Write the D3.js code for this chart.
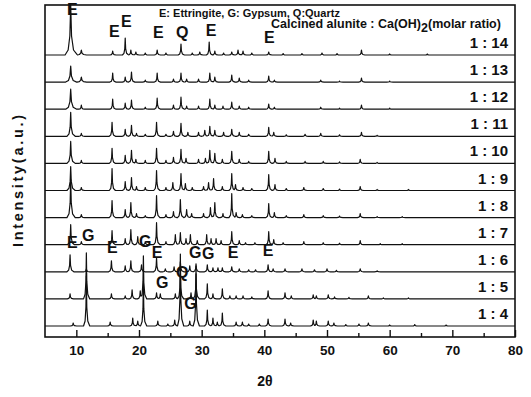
<!DOCTYPE html>
<html lang="en">
<head>
<meta charset="utf-8">
<title>XRD patterns</title>
<script src="https://d3js.org/d3.v7.min.js"></script>
<style>
  body { margin: 0; background: #fff; }
  svg text { font-family: Arial, "Liberation Sans", sans-serif; fill: #111; }
</style>
</head>
<body>
<div id="chart"></div>
<script>
// Sample labels, bottom trace first
const ratios = ["1 : 4", "1 : 5", "1 : 6", "1 : 7", "1 : 8", "1 : 9", "1 : 10", "1 : 11", "1 : 12", "1 : 13", "1 : 14"];

// Peaks: [2theta, height (a.u.), half width (optional)]
const peaks_1_4 = [[9.5,3],[11.6,50],[15.4,4],[19.0,8],[19.8,5],[20.7,45],[23.0,5],[24.6,2],[25.7,6],[26.6,72],[28.1,5],[29.1,60],[30.9,16],[31.8,8],[32.5,4],[33.3,13],[35.5,4],[36.5,4],[37.5,2],[39.2,2],[40.6,7],[43.3,7],[44.2,3],[47.8,6],[48.3,5],[50.2,5],[51.1,3],[53,1.5],[55.1,2],[56.6,3],[60,1],[64,1.5],[69,1]];
const peaks_1_5 = [[9.0,5],[11.6,46],[15.6,5],[17.8,3],[18.9,9],[20.2,8],[20.7,43],[22.8,6],[23.4,5],[25.8,5],[26.6,30],[28.3,6],[29.1,25],[30.9,15],[31.8,5],[33.3,10],[34.5,3],[35.5,3],[36.6,3],[38,2],[40.6,8],[43.3,6],[44.3,3],[47.8,4],[48.3,3],[50.2,4],[51.2,2],[53.5,1.5],[56.6,3],[59,1],[63,1]];
const peaks_1_6 = [[9.0,17,0.5],[11.6,3],[15.6,11],[17.8,6],[18.7,11],[20.4,7],[22.8,14],[24.2,3],[25.6,5],[26.6,10],[28.1,6],[29.1,8],[30.9,7],[31.8,4],[32.6,4],[33.3,4],[34.8,5],[36,3],[37.5,2],[38.6,2],[40.6,7],[41.4,3],[43.3,3],[46,3],[48,2],[50,3],[51.5,1.5],[55.3,3],[58,1]];
const peaks_1_7 = [[9.1,20,0.5],[10.8,3],[15.7,14],[17.8,6],[18.7,15],[19.8,8],[21,3],[22.8,22],[24.3,3],[25.8,10],[26.6,12],[27.5,6],[28.2,10],[29.3,4],[30.8,10],[31.5,6],[32.3,6],[33.1,4],[34.8,13],[36,4],[37,2],[38.5,2],[40.7,13],[41.5,5],[43,2],[46.3,3],[49.4,2],[52,1.5],[55.3,4],[58.5,1],[62,1]];
const peaks_1_8 = [[9.1,38,0.6],[10.8,3],[15.7,17],[17.8,8],[18.7,15],[19.6,4],[21,2],[22.8,22],[24.3,3],[25.5,6],[26.6,18],[27.6,8],[28.4,4],[30.3,4],[31.4,10],[32.1,15],[33.4,4],[34.8,24],[35.5,5],[36.5,3],[38,2],[40.7,14],[41.6,5],[43.5,2],[46.3,3],[49.4,2],[52,1.5],[55.3,4],[58,1],[62,1]];
const peaks_1_9 = [[9.1,24,0.6],[10.8,3],[15.7,22],[17.8,9],[18.8,13],[19.6,4],[21,3],[22.8,20],[24.3,3],[25.4,8],[26.7,17],[27.4,7],[28.5,3],[30.3,4],[31.1,8],[31.9,12],[33.3,4],[34.8,17],[35.4,6],[36.6,3],[38,2],[40.7,16],[41.7,6],[43.5,2],[46.3,3],[49.4,2],[52,1.5],[55.3,4],[58,1],[63,1]];
const peaks_1_10 = [[9.1,22,0.6],[10.8,3],[15.7,15],[17.8,8],[18.8,13],[19.5,4],[21,3],[22.8,15],[24.3,3],[25.5,6],[26.7,14],[27.5,5],[29.5,4],[30.6,5],[31.3,13],[32.1,10],[33.3,4],[34.8,12],[36,4],[37.5,2],[40.7,12],[41.7,5],[43.5,2],[46.5,2],[49.4,2],[52,1.5],[55.3,4],[58,1]];
const peaks_1_11 = [[9.1,24,0.6],[10.8,3],[15.7,14],[17.8,7],[18.8,11],[19.6,3],[21,2],[22.8,14],[24.3,2],[25.5,5],[26.7,13],[27.8,4],[29.5,4],[30.5,6],[31.3,10],[32.1,6],[33.5,4],[34.8,7],[36,4],[37.5,2],[40.7,9],[41.5,4],[43.5,1.5],[46.5,2],[49,3],[52,1.5],[55.5,4],[58,1]];
const peaks_1_12 = [[9.1,20,0.8],[10.8,4],[15.8,10],[17.8,6],[18.8,9],[21,2],[22.9,11],[25.5,4],[26.7,12],[27.6,3],[29.5,3],[31.3,10],[32.1,4],[33.4,3],[34.8,7],[36,3],[37.5,2],[40.7,5],[41.6,2],[49,2],[52,1],[55.5,4],[60,1]];
const peaks_1_13 = [[9.1,16,0.8],[10.8,5,0.7],[15.8,9],[17.8,5],[18.8,10],[21,2],[22.9,9],[25.5,3],[26.7,9],[27.6,3],[29.5,3],[31.3,9],[32.1,5],[34.8,7],[36,4],[37.5,2],[40.7,6],[41.6,2],[49,2],[52,1],[55.5,4],[60,1]];
const peaks_1_14 = [[9.1,50,0.9],[10.8,5,0.7],[15.8,4],[17.8,17],[18.7,5],[19.5,3],[21,2],[22.9,5],[24.3,2],[26.7,11],[28.5,2],[29.7,3],[31.2,13],[32.1,4],[33.5,2],[34.8,3],[35.8,5],[36.6,4],[38,2],[40.7,3],[43,1.5],[46,1.5],[49.2,2],[51.6,1.5],[55.5,5],[60,1],[66,1]];

const patterns = [peaks_1_4, peaks_1_5, peaks_1_6, peaks_1_7, peaks_1_8, peaks_1_9,
                  peaks_1_10, peaks_1_11, peaks_1_12, peaks_1_13, peaks_1_14];

// Phase markers: [letter, 2theta]
const topMarks = [["E",9.36],["E",16.06],["E",17.97],["E",23.08],["Q",26.9],["E",31.5],["E",40.8]];
const lowMarks = [["E",9.36],["G",11.9],["E",15.74],["G",21.0],["E",22.9],["G",23.7],["Q",26.9],["G",28.98],["G",31.06],["E",35.0],["E",40.6],["G",28.2]];

const xTicks = [10, 20, 30, 40, 50, 60, 70, 80];
const xMinor = [15, 25, 35, 45, 55, 65, 75];

// ---- layout ----
const W = 531, H = 397;
const mLeft = 45, mRight = 515, mTop = 5, mBottom = 337;
const step = 27.1;          // vertical offset between traces
const topMarkY = [9, 31, 21, 32, 32, 30, 37];
const lowMarkY = [242, 235, 247, 241, 252, 282, 272, 252, 253, 252, 250, 303];

const svg = d3.select("#chart").append("svg")
   .attr("width", W)
   .attr("height", H);

const x = d3.scaleLinear().domain([5, 80]).range([mLeft, mRight]);
const y = d3.scaleLinear().domain([0, mBottom - mTop]).range([mBottom, mTop]);

// Peak profile (relative offsets in half widths, relative heights)
const shape = [[-1, 0], [-0.45, 0.1], [-0.15, 0.38], [0, 1], [0.15, 0.38], [0.5, 0.1], [1.2, 0]];
const defaultW = 0.45;

function profile(p, t) {
   const w = p[2] || defaultW;
   const u = (t - p[0]) / w;
   if (u <= shape[0][0] || u >= shape[shape.length - 1][0]) return 0;
   for (let i = 1; i < shape.length; i++) {
      if (u <= shape[i][0]) {
         const a = shape[i - 1], b = shape[i];
         return p[1] * (a[1] + (b[1] - a[1]) * (u - a[0]) / (b[0] - a[0]));
      }
   }
   return 0;
}

function tracePoints(pk) {
   let xs = [5, 80];
   pk.forEach(p => {
      const w = p[2] || defaultW;
      shape.forEach(s => xs.push(p[0] + s[0] * w));
   });
   xs = xs.filter(t => t >= 5 && t <= 80).sort((a, b) => a - b);
   return xs.map(t => [t, d3.max(pk, p => profile(p, t))]);
}

const line = d3.line()
   .x(d => x(d[0]))
   .y(d => y(d[1]));

// Traces
patterns.forEach(function (pk, i) {
   const base = 11 + i * step;
   svg.append("path")
      .datum(tracePoints(pk).map(d => [d[0], d[1] + base]))
      .attr("fill", "none")
      .attr("stroke", "#111")
      .attr("stroke-width", 1.2)
      .attr("stroke-linejoin", "round")
      .attr("d", line);

   svg.append("text")
      .attr("x", 508)
      .attr("y", y(base) - 7)
      .attr("text-anchor", "end")
      .attr("font-size", 15)
      .attr("font-weight", "bold")
      .text(ratios[i]);
});

// Frame
svg.append("rect")
   .attr("x", mLeft).attr("y", mTop)
   .attr("width", mRight - mLeft).attr("height", mBottom - mTop)
   .attr("fill", "none")
   .attr("stroke", "#111")
   .attr("stroke-width", 1.6);

// X axis, ticks pointing inward
const xAxis = svg.append("g")
   .attr("transform", `translate(0,${mBottom})`)
   .call(d3.axisBottom(x).tickValues(xTicks).tickSizeInner(-7).tickSizeOuter(0).tickPadding(8));
xAxis.select(".domain").remove();
xAxis.selectAll("line").attr("stroke", "#111").attr("stroke-width", 1.4);
xAxis.selectAll("text")
   .attr("font-size", 13.5)
   .attr("font-weight", "bold")
   .attr("font-family", "Arial, 'Liberation Sans', sans-serif")
   .attr("fill", "#111");

const xMinorAxis = svg.append("g")
   .attr("transform", `translate(0,${mBottom})`)
   .call(d3.axisBottom(x).tickValues(xMinor).tickSizeInner(-4).tickSizeOuter(0).tickFormat(""));
xMinorAxis.select(".domain").remove();
xMinorAxis.selectAll("line").attr("stroke", "#111").attr("stroke-width", 1.4);

// Axis titles
svg.append("text")
   .attr("x", 265).attr("y", 386)
   .attr("text-anchor", "middle")
   .attr("font-size", 14)
   .attr("font-weight", "bold")
   .text("2θ");

svg.append("text")
   .attr("transform", "translate(23,181) rotate(-90)")
   .attr("text-anchor", "middle")
   .attr("font-size", 14.5)
   .attr("font-weight", "bold")
   .attr("textLength", 132)
   .attr("lengthAdjust", "spacing")
   .text("Intensity(a.u.)");

// Legend texts
svg.append("text")
   .attr("x", 159).attr("y", 17)
   .attr("font-size", 11)
   .attr("font-weight", "bold")
   .text("E: Ettringite, G: Gypsum, Q:Quartz");

const cal = svg.append("text")
   .attr("x", 271).attr("y", 28)
   .attr("font-size", 12.5)
   .attr("font-weight", "bold");
cal.append("tspan").text("Calcined alunite : Ca(OH)");
cal.append("tspan").attr("dy", 4).text("2");
cal.append("tspan").attr("dy", -4).text("(molar ratio)");

// Phase marker letters
function drawMarks(marks, ys) {
   svg.append("g")
      .selectAll("text")
      .data(marks)
      .join("text")
      .attr("x", d => x(d[1]))
      .attr("y", (d, i) => ys[i] + 6)
      .attr("text-anchor", "middle")
      .attr("font-size", 16)
      .attr("font-weight", "bold")
      .text(d => d[0]);
}
drawMarks(topMarks, topMarkY);
drawMarks(lowMarks, lowMarkY);
</script>
</body>
</html>
